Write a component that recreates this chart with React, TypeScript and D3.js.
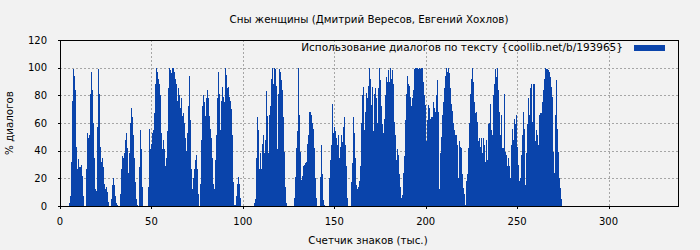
import React from "react";
import * as d3 from "d3";

// ---- data ----
const title = "Сны женщины (Дмитрий Вересов, Евгений Хохлов)";
const xLabel = "Счетчик знаков (тыс.)";
const yLabel = "% диалогов";
const legendLabel = "Использование диалогов по тексту {coollib.net/b/193965}";
const xTicks = [0, 50, 100, 150, 200, 250, 300];
const yTicks = [0, 20, 40, 60, 80, 100, 120];
const xMax = 338;
const yMax = 120;
const sampleStep = 0.547; // thousand characters per sample

const partA = [
  0, 0, 0, 0, 0, 0, 0, 0, 0,
  2, 7, 32, 76, 99, 94, 84, 43, 27, 34,
  28, 28, 30, 22, 7, 0, 0,
  27, 53, 49, 51, 81, 97, 84, 60, 35, 12,
  11, 57, 99, 81, 43, 32, 35, 28, 16, 12,
  14, 10, 3, 0, 0,
  5, 15, 20, 15, 7, 2, 1, 0, 0,
  9, 27, 36, 35, 38, 48, 53, 42, 24, 38,
  60, 71, 64, 51, 35, 17, 5, 1, 0,
  28, 55, 41, 14, 0, 0, 0, 0, 0,
  14, 56, 41, 45, 53, 55,
];
const partB = [
  67, 88, 100, 97, 92, 88, 80, 53, 41, 48,
  41, 29, 35, 54, 85, 100, 98, 96, 100, 100,
  97, 92, 88, 76, 85, 80, 71, 78, 65, 67,
  60, 49, 40, 53, 72, 94, 62, 27, 12, 20,
  27, 33, 37, 27, 9, 0, 16, 48, 72, 80,
  75, 65, 78, 84, 78, 65, 56, 49, 35, 16,
  12, 33, 51, 78, 97, 81, 55, 76, 86, 79,
  75, 100, 95, 85, 86, 79, 76, 70, 51, 17,
  1, 1, 7, 16, 21, 16, 6, 0, 0, 0, 0, 0, 0, 0, 0,
];
const partC = [
  0, 0, 0, 0, 0, 2, 5, 35, 64, 55,
  27, 38, 27, 45, 51, 38, 48, 83, 65, 38,
  66, 72, 92, 100, 88, 100, 99, 87, 41, 81,
  99, 97, 91, 84, 64, 39, 14, 2, 0, 0,
  0, 0, 0, 0, 0, 6, 21, 42, 54, 100,
  66, 39, 19, 22, 29, 30, 31, 32, 45, 51,
  68, 68, 66, 60, 56, 42, 20, 6, 0, 0,
  0, 21, 44, 23, 4, 1, 0, 0, 0, 0,
  20, 33, 44, 74, 53, 57, 54, 49, 44, 51,
  35, 43, 51, 46, 57, 64,
];
const partD = [
  44, 29, 6, 0, 0, 0, 17, 31, 64, 53,
  35, 15, 12, 14, 18, 29, 60, 80, 86, 55,
  68, 82, 78, 87, 100, 92, 73, 86, 54, 81,
  85, 78, 60, 85, 100, 91, 72, 59, 53, 63,
  80, 93, 90, 98, 90, 100, 92, 98, 88, 61,
  51, 33, 41, 37, 23, 14, 6, 8, 24, 36,
  62, 81, 94, 88, 87, 79, 72, 78, 84, 99,
  100, 100, 100, 99, 100, 99, 100, 100, 90, 80,
  73, 47, 62, 73, 71, 63, 64, 64, 75, 71,
];
const partE = [
  68, 80, 91, 68, 12, 38, 50, 66, 75, 85,
  94, 100, 97, 100, 96, 85, 74, 69, 60, 55,
  51, 51, 44, 20, 47, 43, 42, 23, 13, 9,
  1, 18, 23, 42, 60, 81, 92, 100, 90, 75,
  67, 68, 61, 47, 49, 43, 49, 38, 49, 44,
  32, 48, 33, 59, 60, 74, 55, 51, 80, 88,
  99, 93, 100, 84, 68, 51, 66, 42, 42, 81,
  39, 37, 29, 35, 29, 20, 44, 56, 48, 63,
  59, 66, 43, 30, 18, 20, 37, 51, 68, 56,
  15, 38, 59, 78, 66, 85, 88, 61, 88, 88,
];
const partF = [
  47, 55, 51, 44, 66, 67, 67, 75, 84, 92,
  100, 99, 99, 98, 97, 93, 86, 79, 39, 24,
  66, 91, 56, 39, 20, 13, 5,
];
const dialogShare = [...partA, ...partB, ...partC, ...partD, ...partE, ...partF];

// ---- layout ----
const W = 700;
const H = 250;
const M = { left: 60, top: 40, right: 22, bottom: 44 };
const FONT = "DejaVu Sans, Verdana, sans-serif";
const BAR = "#0a44ab";

export default function App() {
  const pw = W - M.left - M.right;
  const ph = H - M.top - M.bottom;
  const x = d3.scaleLinear().domain([0, xMax]).range([M.left, M.left + pw]);
  const y = d3.scaleLinear().domain([0, yMax]).range([M.top + ph, M.top]);

  const barPath = d3.path();
  dialogShare.forEach((v, i) => {
    if (v <= 0) return;
    const x0 = x(i * sampleStep);
    const x1 = x((i + 1) * sampleStep);
    barPath.rect(x0, y(v), x1 - x0, y(0) - y(v));
  });

  return (
    <div style={{ position: "fixed", left: 0, top: 0, width: W, height: H }}>
      <svg width={W} height={H} style={{ display: "block" }} fontFamily={FONT}>
        <rect x={0} y={0} width={W} height={H} fill="#f2f2f2" />
        {/* grid */}
        {yTicks
          .filter((t) => t > 0 && t < yMax)
          .map((t) => (
            <line
              key={"gy" + t}
              x1={M.left}
              x2={M.left + pw}
              y1={Math.round(y(t)) + 0.5}
              y2={Math.round(y(t)) + 0.5}
              stroke="#a6a6a6"
              strokeDasharray="2,2"
            />
          ))}
        {xTicks
          .filter((t) => t > 0)
          .map((t) => (
            <line
              key={"gx" + t}
              x1={Math.round(x(t)) + 0.5}
              x2={Math.round(x(t)) + 0.5}
              y1={M.top}
              y2={M.top + ph}
              stroke="#a6a6a6"
              strokeDasharray="2,2"
            />
          ))}
        {/* bars */}
        <path d={barPath.toString()} fill={BAR} shapeRendering="crispEdges" />
        {/* frame */}
        <rect
          x={M.left + 0.5}
          y={M.top + 0.5}
          width={pw}
          height={ph}
          fill="none"
          stroke="#000"
          strokeWidth={1}
        />
        {/* ticks */}
        {yTicks.map((t) => (
          <g key={"ty" + t}>
            <line
              x1={M.left - 2}
              x2={M.left}
              y1={Math.round(y(t)) + 0.5}
              y2={Math.round(y(t)) + 0.5}
              stroke="#000"
            />
            <text
              x={M.left - 13}
              y={y(t)}
              dy="0.35em"
              textAnchor="end"
              fontSize={10}
              fill="#000"
            >
              {t}
            </text>
          </g>
        ))}
        {xTicks.map((t) => (
          <g key={"tx" + t}>
            <line
              x1={Math.round(x(t)) + 0.5}
              x2={Math.round(x(t)) + 0.5}
              y1={M.top + ph}
              y2={M.top + ph + 3}
              stroke="#000"
            />
            <text x={x(t)} y={M.top + ph + 19} textAnchor="middle" fontSize={10} fill="#000">
              {t}
            </text>
          </g>
        ))}
        {/* labels */}
        <text x={369} y={23} textAnchor="middle" fontSize={10.3} fill="#000">
          {title}
        </text>
        <text x={368} y={244} textAnchor="middle" fontSize={10.3} fill="#000">
          {xLabel}
        </text>
        <text
          transform={`translate(13,123) rotate(-90)`}
          textAnchor="middle"
          fontSize={10.3}
          fill="#000"
        >
          {yLabel}
        </text>
        {/* legend */}
        <text x={623} y={51} textAnchor="end" fontSize={10.5} fill="#000">
          {legendLabel}
        </text>
        <rect x={634} y={45} width={31} height={6} fill={BAR} />
      </svg>
    </div>
  );
}
